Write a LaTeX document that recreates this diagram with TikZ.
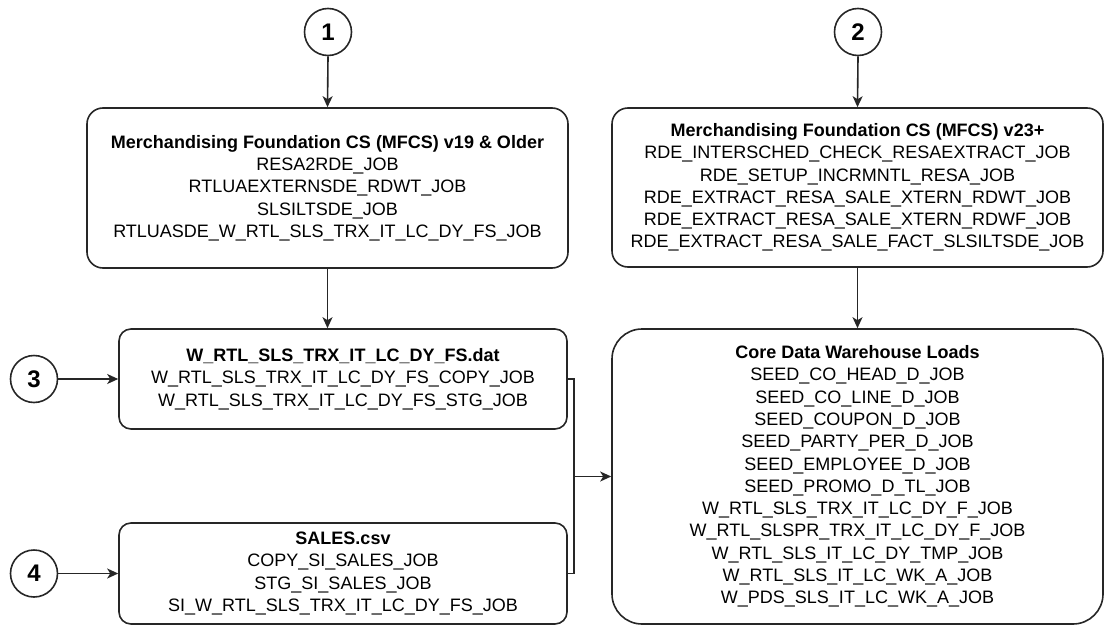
\documentclass[tikz,border=0pt]{standalone}
\usepackage{fontspec}
\setmainfont{Liberation Sans}
\usetikzlibrary{arrows.meta}
\begin{document}
\begin{tikzpicture}[x=1pt,y=-1pt,
  box/.style={draw=black!85, line width=1.6pt, rounded corners=#1, align=center, inner sep=0pt, font=\fontsize{18}{22.3}\selectfont},
  box/.default=16pt,
  numc/.style={draw=black!85, line width=1.6pt, circle, minimum size=47pt, inner sep=0pt, font=\fontsize{24}{24}\selectfont\bfseries},
  conn/.style={line width=1.6pt, draw=black!85},
  arr/.style={conn, -{Stealth[length=11pt,width=10pt,inset=3pt]}}]
\useasboundingbox (0,0) rectangle (1108,629);

\node[numc] (c1) at (328,32) {1};
\node[numc] (c2) at (858,32) {2};
\node[numc] (c3) at (34,379) {3};
\node[numc] (c4) at (34,573.5) {4};

\node[box, minimum width=481pt, minimum height=160pt] (b1) at (327.5,188)
 {\textbf{Merchandising Foundation CS (MFCS) v19 \& Older}\\RESA2RDE\_JOB\\RTLUAEXTERNSDE\_RDWT\_JOB\\SLSILTSDE\_JOB\\RTLUASDE\_W\_RTL\_SLS\_TRX\_IT\_LC\_DY\_FS\_JOB};

\node[box, minimum width=491pt, minimum height=159pt] (b2) at (857.5,187.5)
 {\textbf{Merchandising Foundation CS (MFCS) v23+}\\RDE\_INTERSCHED\_CHECK\_RESAEXTRACT\_JOB\\RDE\_SETUP\_INCRMNTL\_RESA\_JOB\\RDE\_EXTRACT\_RESA\_SALE\_XTERN\_RDWT\_JOB\\RDE\_EXTRACT\_RESA\_SALE\_XTERN\_RDWF\_JOB\\RDE\_EXTRACT\_RESA\_SALE\_FACT\_SLSILTSDE\_JOB};

\node[box=12pt, minimum width=448pt, minimum height=100pt] (b3) at (343,379)
 {\textbf{W\_RTL\_SLS\_TRX\_IT\_LC\_DY\_FS.dat}\\W\_RTL\_SLS\_TRX\_IT\_LC\_DY\_FS\_COPY\_JOB\\W\_RTL\_SLS\_TRX\_IT\_LC\_DY\_FS\_STG\_JOB};

\node[box=12pt, minimum width=448pt, minimum height=101pt] (b4) at (343,573.5)
 {\textbf{SALES.csv}\\COPY\_SI\_SALES\_JOB\\STG\_SI\_SALES\_JOB\\SI\_W\_RTL\_SLS\_TRX\_IT\_LC\_DY\_FS\_JOB};

\node[box=30pt, minimum width=491pt, minimum height=295pt] (dw) at (857.5,476.5)
 {\textbf{Core Data Warehouse Loads}\\SEED\_CO\_HEAD\_D\_JOB\\SEED\_CO\_LINE\_D\_JOB\\SEED\_COUPON\_D\_JOB\\SEED\_PARTY\_PER\_D\_JOB\\SEED\_EMPLOYEE\_D\_JOB\\SEED\_PROMO\_D\_TL\_JOB\\W\_RTL\_SLS\_TRX\_IT\_LC\_DY\_F\_JOB\\W\_RTL\_SLSPR\_TRX\_IT\_LC\_DY\_F\_JOB\\W\_RTL\_SLS\_IT\_LC\_DY\_TMP\_JOB\\W\_RTL\_SLS\_IT\_LC\_WK\_A\_JOB\\W\_PDS\_SLS\_IT\_LC\_WK\_A\_JOB};

\draw[arr] (c1.south) -- (b1.north);
\draw[arr] (c2.south) -- (b2.north);
\draw[arr] (b1.south) -- (b1.south |- b3.north);
\draw[arr] (b2.south) -- (dw.north);
\draw[arr] (c3.east) -- (b3.west);
\draw[arr] (c4.east) -- (b4.west);
\coordinate (j) at (574,476.5);
\draw[conn] (b3.east) -| (j);
\draw[conn] (b4.east) -| (j);
\draw[arr] (j) -- (dw.west);
\end{tikzpicture}
\end{document}
